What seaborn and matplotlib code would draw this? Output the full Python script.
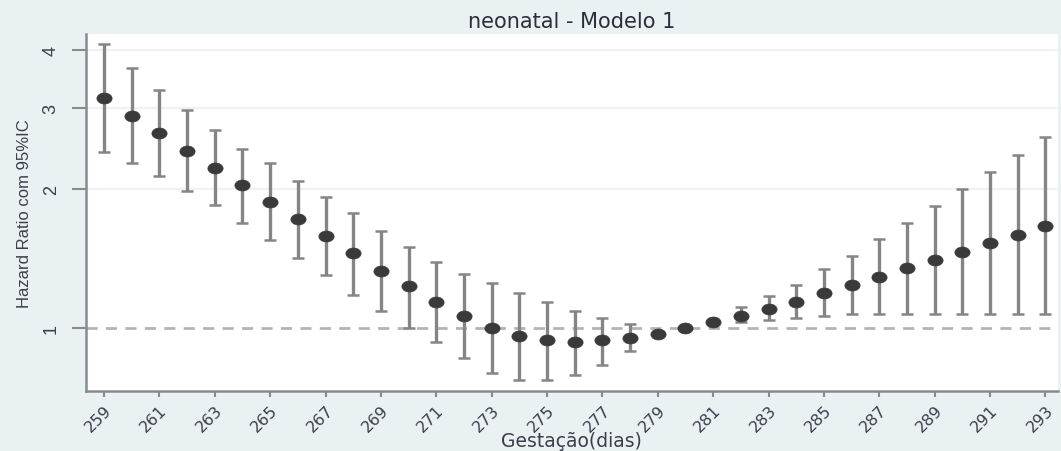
import numpy as np
import pandas as pd
import matplotlib
matplotlib.use("Agg")
import matplotlib.pyplot as plt
from matplotlib.path import Path
import seaborn as sns

# Gestational age (days) and hazard ratios with 95% CI
dias = [259, 260, 261, 262, 263, 264, 265, 266, 267, 268, 269, 270, 271, 272,
        273, 274, 275, 276, 277, 278, 279, 280, 281, 282, 283, 284, 285, 286,
        287, 288, 289, 290, 291, 292, 293]
hr = [3.14, 2.87, 2.64, 2.42, 2.22, 2.04, 1.87, 1.72, 1.58, 1.45, 1.33, 1.23,
      1.14, 1.06, 1.00, 0.96, 0.94, 0.93, 0.94, 0.95, 0.97, 1.00, 1.03, 1.06,
      1.10, 1.14, 1.19, 1.24, 1.29, 1.35, 1.40, 1.46, 1.53, 1.59, 1.66]
ic_inf = [2.40, 2.27, 2.13, 1.98, 1.85, 1.69, 1.55, 1.42, 1.30, 1.18, 1.09, 1.00,
          0.93, 0.86, 0.80, 0.77, 0.77, 0.79, 0.83, 0.89, 0.96, 1.00, 1.02, 1.03,
          1.04, 1.05, 1.06, 1.07, 1.07, 1.07, 1.07, 1.07, 1.07, 1.07, 1.07]
ic_sup = [4.11, 3.66, 3.28, 2.96, 2.68, 2.44, 2.27, 2.08, 1.92, 1.77, 1.62, 1.50,
          1.39, 1.31, 1.25, 1.19, 1.14, 1.09, 1.05, 1.02, 0.98, 1.00, 1.04, 1.11,
          1.17, 1.24, 1.34, 1.43, 1.56, 1.69, 1.84, 2.00, 2.18, 2.37, 2.59]
x_ticks = list(range(259, 294, 2))
y_ticks = [1, 2, 3, 4]

df = pd.DataFrame({"dias": dias, "hr": hr, "inf": ic_inf, "sup": ic_sup})

sns.set_theme(style="white")
plt.rcParams["font.family"] = ["DejaVu Sans"]
sans = ["Liberation Sans", "DejaVu Sans"]

bg = "#eaf1f3"
txt = "#3a3f4a"
fig = plt.figure(figsize=(10.61, 4.52), dpi=100, facecolor=bg)
ax = fig.add_axes([0.0811, 0.1327, 0.9159, 0.7899])
ax.set_facecolor("white")
ax.set_yscale("log")

# faint horizontal grid and reference line at HR = 1
for v in [2, 3, 4]:
    ax.axhline(v, color="#edf3f5", lw=1.6, zorder=0)
ax.axhline(1, color="#b4b4b4", lw=2, ls=(0, (4, 3)), zorder=1)

# confidence intervals
ax.errorbar(df["dias"], df["hr"],
            yerr=[df["hr"] - df["inf"], df["sup"] - df["hr"]],
            fmt="none", ecolor="#858585", elinewidth=2.4, capsize=4.3,
            capthick=1.8, zorder=2)

# flattened circle marker
circ = Path.unit_circle()
ellipse = Path(circ.vertices * np.array([1.0, 0.72]), circ.codes)
sns.scatterplot(data=df, x="dias", y="hr", ax=ax, marker=ellipse, s=120,
                color="#3a3a3a", edgecolor="#3a3a3a", linewidth=0.5, zorder=3)

ax.set_xlim(258.35, 293.45)
ax.set_ylim(0.73, 4.33)
ax.set_xticks(x_ticks)
ax.set_xticklabels([str(t) for t in x_ticks], rotation=45, ha="right",
                   rotation_mode="anchor", fontsize=11.5, color=txt)
ax.set_yticks(y_ticks)
ax.set_yticklabels([str(t) for t in y_ticks], rotation=90, va="center",
                   fontsize=13, color=txt, family=sans)
ax.yaxis.set_minor_locator(matplotlib.ticker.NullLocator())

ax.tick_params(axis="x", which="major", direction="out", length=4,
               width=1.5, color="#8a8a8a", bottom=True, pad=4)
ax.tick_params(axis="y", which="major", direction="out", length=10,
               width=1.5, color="#8a8a8a", left=True, pad=9)

for side in ["top", "right"]:
    ax.spines[side].set_visible(False)
for side in ["left", "bottom"]:
    ax.spines[side].set_color("#8a8a8a")
    ax.spines[side].set_linewidth(1.8)

ax.set_xlabel("Gestação(dias)", fontsize=13.5, color=txt, va="center")
ax.xaxis.set_label_coords(0.5, -0.139)
ax.set_ylabel("Hazard Ratio com 95%IC", fontsize=12, color=txt,
              family=sans, va="center")
ax.yaxis.set_label_coords(-0.063, 0.5)
ax.set_title("neonatal - Modelo 1", fontsize=15, color="#2a2f3a", pad=5)

fig.savefig("out.png", dpi=100, facecolor=bg)
